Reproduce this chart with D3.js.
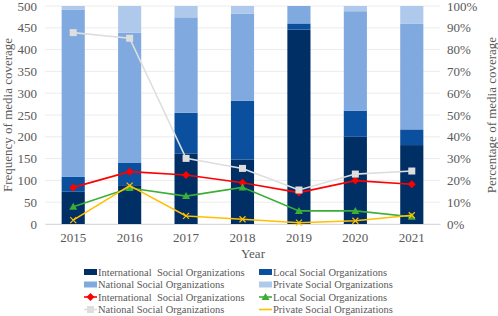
<!DOCTYPE html>
<html>
<head>
<meta charset="utf-8">
<script src="https://cdn.jsdelivr.net/npm/d3@7"></script>
<style>
  body { margin: 0; background: #fff; }
</style>
</head>
<body>
<div id="chart"></div>
<script>
// data
const years = ["2015", "2016", "2017", "2018", "2019", "2020", "2021"];

// stacked bars, frequency (left axis)
const intlFreq = [74, 89, 162, 148, 446, 200, 181];
const localFreq = [34, 52, 93, 135, 14, 60, 36];
const nationalFreq = [384, 298, 219, 199, 40, 228, 242];
const privateFreq = [8, 61, 26, 18, 0, 12, 41];

// lines, percentage (right axis)
const intlPct = [16.8, 24.0, 22.5, 18.9, 14.4, 19.9, 18.2];
const localPct = [7.9, 16.5, 12.8, 16.8, 6.0, 6.0, 3.3];
const nationalPct = [87.8, 85.2, 30.1, 25.5, 15.6, 22.9, 24.3];
const privatePct = [1.8, 17.6, 3.7, 2.2, 0.6, 1.5, 4.0];

const leftTicks = [0, 50, 100, 150, 200, 250, 300, 350, 400, 450, 500];
const rightTicks = [0, 10, 20, 30, 40, 50, 60, 70, 80, 90, 100];

const barSeries = [
  { name: "International  Social Organizations", values: intlFreq, color: "#002f66" },
  { name: "Local Social Organizations", values: localFreq, color: "#0a509e" },
  { name: "National Social Organizations", values: nationalFreq, color: "#80a9df" },
  { name: "Private Social Organizations", values: privateFreq, color: "#aec9ec" }
];
const lineSeries = [
  { name: "International  Social Organizations", values: intlPct, color: "#ff0000", marker: "diamond" },
  { name: "Local Social Organizations", values: localPct, color: "#3aae35", marker: "triangle" },
  { name: "National Social Organizations", values: nationalPct, color: "#dedede", marker: "square" },
  { name: "Private Social Organizations", values: privatePct, color: "#ffc000", marker: "cross" }
];

const FONT = "'Liberation Serif', 'Times New Roman', serif";
const TXT = "#595959";

const width = 498, height = 316;
const margin = { top: 6, right: 58, bottom: 92, left: 45 };
const x0 = margin.left, x1 = width - margin.right;
const y0 = height - margin.bottom, y1 = margin.top;

const svg = d3.select("#chart").append("svg")
  .attr("width", width).attr("height", height);

const x = d3.scaleBand().domain(years).range([x0, x1]).paddingInner(0.59).paddingOuter(0.295);
const yL = d3.scaleLinear().domain([0, 500]).range([y0, y1]);
const yR = d3.scaleLinear().domain([0, 100]).range([y0, y1]);

// gridlines
svg.append("g").selectAll("line").data(leftTicks).join("line")
  .attr("x1", x0).attr("x2", x1)
  .attr("y1", d => yL(d)).attr("y2", d => yL(d))
  .attr("stroke", "#ececec").attr("stroke-width", 1);

function styleAxis(ax) {
  ax.attr("font-family", FONT);
  ax.selectAll("text").attr("fill", TXT).style("font-family", FONT).style("font-size", "13px");
}

// left axis
const axL = svg.append("g").attr("transform", `translate(${x0},0)`)
  .call(d3.axisLeft(yL).tickValues(leftTicks).tickSize(0).tickPadding(8));
axL.select(".domain").remove();
styleAxis(axL);

// right axis
const axR = svg.append("g").attr("transform", `translate(${x1},0)`)
  .call(d3.axisRight(yR).tickValues(rightTicks).tickFormat(d => d + "%").tickSize(0).tickPadding(7));
axR.select(".domain").remove();
styleAxis(axR);

// bottom axis
const axB = svg.append("g").attr("transform", `translate(0,${y0})`)
  .call(d3.axisBottom(x).tickSize(0).tickPadding(9));
axB.select(".domain").attr("stroke", "#d9d9d9");
styleAxis(axB);

function label(sel) {
  return sel.attr("fill", TXT).style("font-family", FONT);
}

// axis titles
label(svg.append("text")).attr("transform", `translate(12,${(y0 + y1) / 2}) rotate(-90)`)
  .attr("text-anchor", "middle").style("font-size", "13px").text("Frequency of media coverage");
label(svg.append("text")).attr("transform", `translate(${width - 2},${(y0 + y1) / 2}) rotate(-90)`)
  .attr("text-anchor", "middle").style("font-size", "13px").text("Percentage of media coverage");
label(svg.append("text")).attr("x", 253).attr("y", 258)
  .attr("text-anchor", "middle").style("font-size", "13px").text("Year");

// stacked bars
const table = years.map((yr, i) => {
  const row = { year: yr };
  barSeries.forEach((s, k) => { row[k] = s.values[i]; });
  return row;
});
const stack = d3.stack().keys(barSeries.map((s, k) => k))(table);
svg.append("g").selectAll("g").data(stack).join("g")
  .attr("fill", (d, k) => barSeries[k].color)
  .selectAll("rect").data(d => d).join("rect")
  .attr("x", d => x(d.data.year))
  .attr("width", x.bandwidth())
  .attr("y", d => yL(d[1]))
  .attr("height", d => yL(d[0]) - yL(d[1]));

// marker shapes
function drawMarker(g, type, color, cx, cy) {
  if (type === "diamond") {
    g.append("path").attr("d", `M${cx},${cy - 4}L${cx + 4},${cy}L${cx},${cy + 4}L${cx - 4},${cy}Z`).attr("fill", color);
  } else if (type === "triangle") {
    g.append("path").attr("d", `M${cx},${cy - 4}L${cx + 4},${cy + 3}L${cx - 4},${cy + 3}Z`).attr("fill", color);
  } else if (type === "square") {
    g.append("rect").attr("x", cx - 3.5).attr("y", cy - 3.5).attr("width", 7).attr("height", 7).attr("fill", color);
  } else {
    g.append("path").attr("d", `M${cx - 3},${cy - 3}L${cx + 3},${cy + 3}M${cx - 3},${cy + 3}L${cx + 3},${cy - 3}`)
      .attr("stroke", color).attr("stroke-width", 1.2);
  }
}

const line = d3.line().x((d, i) => x(years[i]) + x.bandwidth() / 2).y(d => yR(d));
lineSeries.forEach(s => {
  const g = svg.append("g");
  g.append("path").attr("d", line(s.values)).attr("fill", "none")
    .attr("stroke", s.color).attr("stroke-width", 1.6);
  s.values.forEach((v, i) => drawMarker(g, s.marker, s.color, x(years[i]) + x.bandwidth() / 2, yR(v)));
});

// legend
const legendItems = [
  { s: barSeries[0], kind: "bar" }, { s: barSeries[1], kind: "bar" },
  { s: barSeries[2], kind: "bar" }, { s: barSeries[3], kind: "bar" },
  { s: lineSeries[0], kind: "line" }, { s: lineSeries[1], kind: "line" },
  { s: lineSeries[2], kind: "line" }, { s: lineSeries[3], kind: "line" }
];
const colX = [84, 259], rowY0 = 272, rowH = 12.5;
legendItems.forEach((it, i) => {
  const lx = colX[i % 2], ly = rowY0 + Math.floor(i / 2) * rowH;
  const g = svg.append("g");
  if (it.kind === "bar") {
    g.append("rect").attr("x", lx).attr("y", ly - 3).attr("width", 13).attr("height", 6).attr("fill", it.s.color);
  } else {
    g.append("line").attr("x1", lx).attr("x2", lx + 13).attr("y1", ly).attr("y2", ly)
      .attr("stroke", it.s.color).attr("stroke-width", 1.6);
    if (it.s.marker !== "cross") drawMarker(g, it.s.marker, it.s.color, lx + 6.5, ly);
  }
  label(g.append("text")).attr("x", lx + 14).attr("y", ly).attr("dy", "0.35em")
    .style("font-size", "10.5px").style("white-space", "pre").text(it.s.name);
});
</script>
</body>
</html>
